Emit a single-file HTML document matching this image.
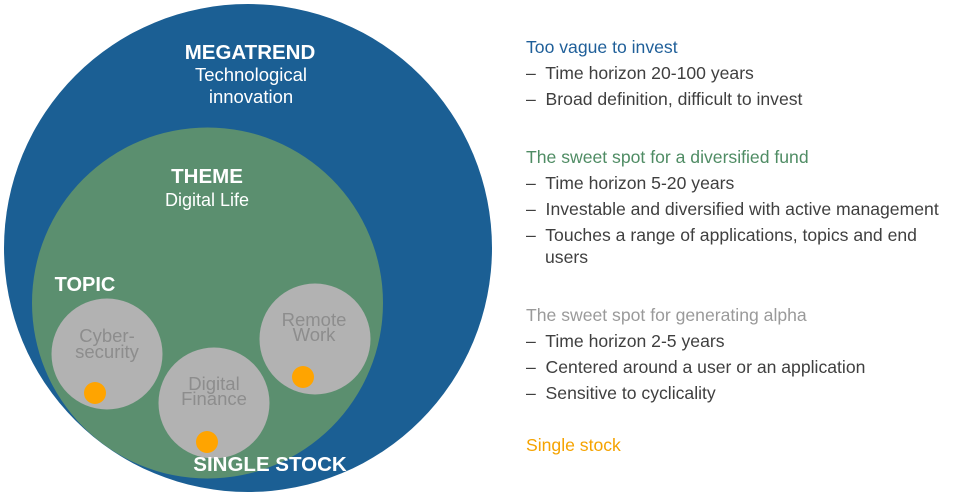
<!DOCTYPE html>
<html><head><meta charset="utf-8"><style>
body{margin:0;width:960px;height:502px;background:#fff;overflow:hidden;font-family:"Liberation Sans",sans-serif}
.t{position:absolute;font-size:17.6px;color:#3f3f3f;line-height:26px}
</style></head><body>
<svg width="960" height="502" style="position:absolute;left:0;top:0" font-family="Liberation Sans, sans-serif">
<circle cx="248" cy="248" r="244" fill="#1b5f94"/>
<circle cx="207.5" cy="303" r="175.5" fill="#5b8f6f"/>
<circle cx="107" cy="354" r="55.5" fill="#b2b2b2"/>
<circle cx="214" cy="403" r="55.5" fill="#b2b2b2"/>
<circle cx="315" cy="339" r="55.5" fill="#b2b2b2"/>
<circle cx="95" cy="393" r="11" fill="#ffa400"/>
<circle cx="207" cy="442" r="11" fill="#ffa400"/>
<circle cx="303" cy="377" r="11" fill="#ffa400"/>
<g fill="#fff" text-anchor="middle">
<text x="250" y="59" font-size="20.5" font-weight="bold">MEGATREND</text>
<text x="251" y="81" font-size="18.5">Technological</text>
<text x="251" y="103" font-size="18.5">innovation</text>
<text x="207" y="183" font-size="20.5" font-weight="bold">THEME</text>
<text x="207" y="206" font-size="18">Digital Life</text>
<text x="85" y="291" font-size="20" font-weight="bold">TOPIC</text>
<text x="270" y="471" font-size="20.5" font-weight="bold">SINGLE STOCK</text>
</g>
<g fill="#8d8d8d" text-anchor="middle" font-size="18.5">
<text x="107" y="342">Cyber-</text><text x="107" y="358">security</text>
<text x="214" y="390">Digital</text><text x="214" y="405">Finance</text>
<text x="314" y="326">Remote</text><text x="314" y="341">Work</text>
</g>
</svg>
<div class="t" style="left:526px;top:34px;color:#1f5f99">Too vague to invest</div>
<div class="t" style="left:526px;top:60px">–&nbsp; Time horizon 20-100 years</div>
<div class="t" style="left:526px;top:86px">–&nbsp; Broad definition, difficult to invest</div>
<div class="t" style="left:526px;top:144px;color:#4f8c64">The sweet spot for a diversified fund</div>
<div class="t" style="left:526px;top:170px">–&nbsp; Time horizon 5-20 years</div>
<div class="t" style="left:526px;top:196px">–&nbsp; Investable and diversified with active management</div>
<div class="t" style="left:526px;top:222px">–&nbsp; Touches a range of applications, topics and end</div>
<div class="t" style="left:545px;top:244px">users</div>
<div class="t" style="left:526px;top:302px;color:#9a9a9a">The sweet spot for generating alpha</div>
<div class="t" style="left:526px;top:328px">–&nbsp; Time horizon 2-5 years</div>
<div class="t" style="left:526px;top:354px">–&nbsp; Centered around a user or an application</div>
<div class="t" style="left:526px;top:380px">–&nbsp; Sensitive to cyclicality</div>
<div class="t" style="left:526px;top:432px;color:#f5a300">Single stock</div>
</body></html>
